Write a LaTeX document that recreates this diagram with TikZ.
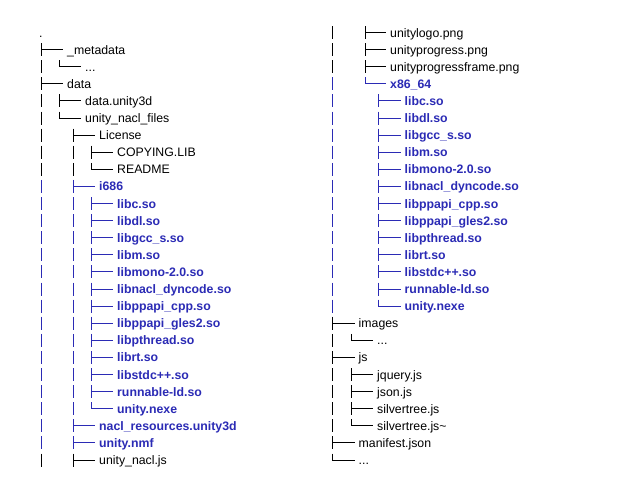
\documentclass[tikz,border=0pt]{standalone}
\usepackage{fontspec}
\setmainfont{Liberation Sans}
\usepackage{tikz}
\usetikzlibrary{calc}
\usepackage{xcolor}
\definecolor{mblue}{HTML}{2B2BB5}
\tikzstyle{tl}=[line width=1pt]
\tikzstyle{bars}=[tl, dash pattern=on 13pt off 4.1pt]
\tikzstyle{f}=[anchor=west, inner sep=0pt, text height=11pt, text depth=2pt, font=\fontsize{12.3}{14}\selectfont]
\tikzstyle{b}=[f, text=mblue, font=\fontsize{12.3}{14}\selectfont\bfseries]

\begin{document}
\begin{tikzpicture}[x=1pt,y=-17.1pt]
    \useasboundingbox[fill=white] (0,-1.9006) rectangle (638,26.111);
    % bar columns
    \coordinate (l0) at (41.5,0);
    \coordinate (l1) at (59.5,0);
    \coordinate (l2) at (73,0);
    \coordinate (l3) at (91.5,0);
    \coordinate (r0) at (332.5,0);
    \coordinate (r1) at (351,0);
    \coordinate (r2) at (365,0);
    \coordinate (r3) at (378,0);

    % left column
    \node[f] (root)      at (39, 0)  {.};
    \node[f] (meta)      at (67, 1)  {\_metadata};
    \node[f] (metadots)  at (85, 2)  {...};
    \node[f] (data)      at (67, 3)  {data};
    \node[f] (dataud)    at (85, 4)  {data.unity3d};
    \node[f] (naclfiles) at (85, 5)  {unity\_nacl\_files};
    \node[f] (lic)       at (99, 6)  {License};
    \node[f] (copying)   at (117, 7) {COPYING.LIB};
    \node[f] (readme)    at (117, 8) {README};
    \node[b] (ia)        at (99, 9)  {i686};
    \node[b] (ia1)  at (117, 10) {libc.so};
    \node[b] (ia2)  at (117, 11) {libdl.so};
    \node[b] (ia3)  at (117, 12) {libgcc\_s.so};
    \node[b] (ia4)  at (117, 13) {libm.so};
    \node[b] (ia5)  at (117, 14) {libmono-2.0.so};
    \node[b] (ia6)  at (117, 15) {libnacl\_dyncode.so};
    \node[b] (ia7)  at (117, 16) {libppapi\_cpp.so};
    \node[b] (ia8)  at (117, 17) {libppapi\_gles2.so};
    \node[b] (ia9)  at (117, 18) {libpthread.so};
    \node[b] (ia10) at (117, 19) {librt.so};
    \node[b] (ia11) at (117, 20) {libstdc++.so};
    \node[b] (ia12) at (117, 21) {runnable-ld.so};
    \node[b] (ia13) at (117, 22) {unity.nexe};
    \node[b] (naclres)   at (99, 23) {nacl\_resources.unity3d};
    \node[b] (nmf)       at (99, 24) {unity.nmf};
    \node[f] (nacljs)    at (99, 25) {unity\_nacl.js};

    % right column
    \node[f] (ulogo)     at (390, 0) {unitylogo.png};
    \node[f] (uprog)     at (390, 1) {unityprogress.png};
    \node[f] (uframe)    at (390, 2) {unityprogressframe.png};
    \node[b] (xa)        at (390, 3) {x86\_64};
    \node[b] (xa1)  at (404.5, 4)  {libc.so};
    \node[b] (xa2)  at (404.5, 5)  {libdl.so};
    \node[b] (xa3)  at (404.5, 6)  {libgcc\_s.so};
    \node[b] (xa4)  at (404.5, 7)  {libm.so};
    \node[b] (xa5)  at (404.5, 8)  {libmono-2.0.so};
    \node[b] (xa6)  at (404.5, 9)  {libnacl\_dyncode.so};
    \node[b] (xa7)  at (404.5, 10) {libppapi\_cpp.so};
    \node[b] (xa8)  at (404.5, 11) {libppapi\_gles2.so};
    \node[b] (xa9)  at (404.5, 12) {libpthread.so};
    \node[b] (xa10) at (404.5, 13) {librt.so};
    \node[b] (xa11) at (404.5, 14) {libstdc++.so};
    \node[b] (xa12) at (404.5, 15) {runnable-ld.so};
    \node[b] (xa13) at (404.5, 16) {unity.nexe};
    \node[f] (images)    at (358.5, 17) {images};
    \node[f] (imgdots)   at (377, 18)   {...};
    \node[f] (js)        at (358.5, 19) {js};
    \node[f] (jquery)    at (377, 20)   {jquery.js};
    \node[f] (json)      at (377, 21)   {json.js};
    \node[f] (stree)     at (377, 22)   {silvertree.js};
    \node[f] (street)    at (377, 23)   {silvertree.js\textasciitilde};
    \node[f] (manifest)  at (358.5, 24) {manifest.json};
    \node[f] (rootdots)  at (358.5, 25) {...};

    % vertical bars
    \draw[bars] ($(l0 |- meta.west)+(0,6.5pt)$) -- ($(l0 |- readme.west)-(0,6.5pt)$);
    \draw[bars, mblue] ($(l0 |- ia.west)+(0,6.5pt)$) -- ($(l0 |- nmf.west)-(0,6.5pt)$);
    \draw[bars] ($(l0 |- nacljs.west)+(0,6.5pt)$) -- ($(l0 |- nacljs.west)-(0,6.5pt)$);
    \draw[bars] ($(l1 |- dataud.west)+(0,6.5pt)$) -- ($(l1 |- dataud.west)-(0,6.5pt)$);
    \draw[bars] ($(l2 |- lic.west)+(0,6.5pt)$) -- ($(l2 |- readme.west)-(0,6.5pt)$);
    \draw[bars, mblue] ($(l2 |- ia.west)+(0,6.5pt)$) -- ($(l2 |- nmf.west)-(0,6.5pt)$);
    \draw[bars] ($(l2 |- nacljs.west)+(0,6.5pt)$) -- ($(l2 |- nacljs.west)-(0,6.5pt)$);
    \draw[bars] ($(l3 |- copying.west)+(0,6.5pt)$) -- ($(l3 |- copying.west)-(0,6.5pt)$);
    \draw[bars, mblue] ($(l3 |- ia1.west)+(0,6.5pt)$) -- ($(l3 |- ia12.west)-(0,6.5pt)$);
    \draw[bars] ($(r0 |- ulogo.west)+(0,6.5pt)$) -- ($(r0 |- uframe.west)-(0,6.5pt)$);
    \draw[bars, mblue] ($(r0 |- xa.west)+(0,6.5pt)$) -- ($(r0 |- xa13.west)-(0,6.5pt)$);
    \draw[bars] ($(r0 |- images.west)+(0,6.5pt)$) -- ($(r0 |- manifest.west)-(0,6.5pt)$);
    \draw[bars] ($(r1 |- jquery.west)+(0,6.5pt)$) -- ($(r1 |- stree.west)-(0,6.5pt)$);
    \draw[bars] ($(r2 |- ulogo.west)+(0,6.5pt)$) -- ($(r2 |- uframe.west)-(0,6.5pt)$);
    \draw[bars, mblue] ($(r3 |- xa1.west)+(0,6.5pt)$) -- ($(r3 |- xa12.west)-(0,6.5pt)$);

    % last children
    \draw[tl] ($(l1 |- metadots.west)+(0,6.5pt)$) |- ([xshift=-4pt]metadots.west);
    \draw[tl] ($(l1 |- naclfiles.west)+(0,6.5pt)$) |- ([xshift=-4pt]naclfiles.west);
    \draw[tl] ($(l3 |- readme.west)+(0,6.5pt)$) |- ([xshift=-4pt]readme.west);
    \draw[tl, mblue] ($(l3 |- ia13.west)+(0,6.5pt)$) |- ([xshift=-4pt]ia13.west);
    \draw[tl, mblue] ($(r2 |- xa.west)+(0,6.5pt)$) |- ([xshift=-4pt]xa.west);
    \draw[tl, mblue] ($(r3 |- xa13.west)+(0,6.5pt)$) |- ([xshift=-4pt]xa13.west);
    \draw[tl] ($(r1 |- imgdots.west)+(0,6.5pt)$) |- ([xshift=-4pt]imgdots.west);
    \draw[tl] ($(r1 |- street.west)+(0,6.5pt)$) |- ([xshift=-4pt]street.west);
    \draw[tl] ($(r0 |- rootdots.west)+(0,6.5pt)$) |- ([xshift=-4pt]rootdots.west);

    % other children
    \draw[tl] (l0 |- meta.west) -- ([xshift=-4pt]meta.west);
    \draw[tl] (l0 |- data.west) -- ([xshift=-4pt]data.west);
    \draw[tl] (l1 |- dataud.west) -- ([xshift=-4pt]dataud.west);
    \draw[tl] (l2 |- lic.west) -- ([xshift=-4pt]lic.west);
    \draw[tl] (l3 |- copying.west) -- ([xshift=-4pt]copying.west);
    \draw[tl, mblue] (l2 |- ia.west) -- ([xshift=-4pt]ia.west);
    \draw[tl, mblue] (l2 |- naclres.west) -- ([xshift=-4pt]naclres.west);
    \draw[tl, mblue] (l2 |- nmf.west) -- ([xshift=-4pt]nmf.west);
    \draw[tl] (l2 |- nacljs.west) -- ([xshift=-4pt]nacljs.west);
    \foreach \i in {1,...,12} {
        \draw[tl, mblue] (l3 |- ia\i.west) -- ([xshift=-4pt]ia\i.west);
        \draw[tl, mblue] (r3 |- xa\i.west) -- ([xshift=-4pt]xa\i.west);
    }
    \draw[tl] (r2 |- ulogo.west) -- ([xshift=-4pt]ulogo.west);
    \draw[tl] (r2 |- uprog.west) -- ([xshift=-4pt]uprog.west);
    \draw[tl] (r2 |- uframe.west) -- ([xshift=-4pt]uframe.west);
    \draw[tl] (r0 |- images.west) -- ([xshift=-4pt]images.west);
    \draw[tl] (r0 |- js.west) -- ([xshift=-4pt]js.west);
    \draw[tl] (r1 |- jquery.west) -- ([xshift=-4pt]jquery.west);
    \draw[tl] (r1 |- json.west) -- ([xshift=-4pt]json.west);
    \draw[tl] (r1 |- stree.west) -- ([xshift=-4pt]stree.west);
    \draw[tl] (r0 |- manifest.west) -- ([xshift=-4pt]manifest.west);
\end{tikzpicture}
\end{document}
